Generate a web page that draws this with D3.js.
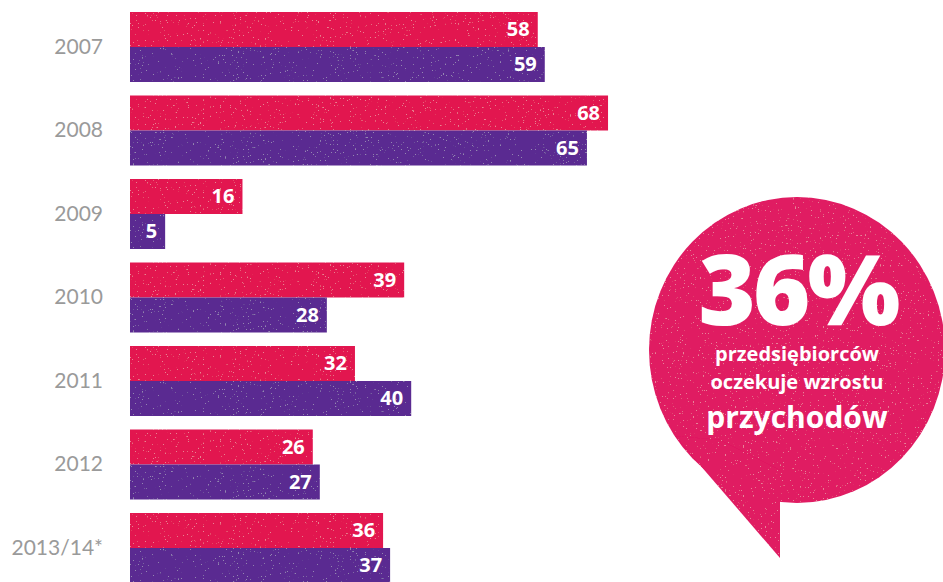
<!DOCTYPE html>
<html><head><meta charset="utf-8">
<script src="https://cdn.jsdelivr.net/npm/d3@7"></script>
<style>
html,body{margin:0;padding:0;background:#fff;}
svg{display:block;}
</style></head>
<body>
<svg id="chart" width="943" height="582"></svg>
<script>
const years = ["2007","2008","2009","2010","2011","2012","2013/14*"];
const seriesA = [58, 68, 16, 39, 32, 26, 36];
const seriesB = [59, 65, 5, 28, 40, 27, 37];
const seriesNames = ["a","b"];
const colors = ["#e2134f", "#5a2a91"];
const bubbleBig = "36%";
const bubbleLines = ["przedsiębiorców", "oczekuje wzrostu", "przychodów"];

const svg = d3.select("#chart");
const defs = svg.append("defs");
const f = defs.append("filter").attr("id","speck").attr("x",0).attr("y",0).attr("width",1).attr("height",1);
f.append("feTurbulence").attr("type","fractalNoise").attr("baseFrequency","0.6").attr("numOctaves",2).attr("seed",4).attr("result","n");
f.append("feColorMatrix").attr("in","n").attr("type","matrix")
 .attr("values","0 0 0 0 1  0 0 0 0 1  0 0 0 0 1  20 0 0 0 -14.2").attr("result","s");
f.append("feComposite").attr("in","s").attr("in2","SourceGraphic").attr("operator","in").attr("result","s2");
f.append("feComponentTransfer").attr("in","s2").attr("result","s3")
 .append("feFuncA").attr("type","linear").attr("slope",0.22);
const m = f.append("feMerge");
m.append("feMergeNode").attr("in","SourceGraphic");
m.append("feMergeNode").attr("in","s3");

const x = d3.scaleLinear().domain([0, 100]).range([130, 833]);
const y = d3.scaleBand().domain(years).range([12, 583]).paddingInner(0.1617).paddingOuter(0);
const ys = d3.scaleBand().domain(seriesNames).range([0, y.bandwidth()]);

const data = years.map((yr, i) => ({year: yr, vals: [seriesA[i], seriesB[i]]}));

const g = svg.append("g");
const groups = g.selectAll("g.grp").data(data).join("g").attr("class","grp")
  .attr("transform", d => `translate(0,${y(d.year)})`);

const bars = groups.selectAll("g.bar").data(d => d.vals.map((v,k)=>({v, k}))).join("g").attr("class","bar");
bars.append("rect")
  .attr("x", x(0))
  .attr("y", d => ys(seriesNames[d.k]))
  .attr("width", d => x(d.v) - x(0))
  .attr("height", ys.bandwidth())
  .attr("fill", d => colors[d.k])
  .attr("filter","url(#speck)");
bars.append("text")
  .attr("x", d => x(d.v) - 8)
  .attr("y", d => ys(seriesNames[d.k]) + ys.bandwidth()/2 + 7)
  .attr("text-anchor","end")
  .attr("font-family","'Open Sans', Lato, sans-serif")
  .attr("font-weight","700")
  .attr("font-size", 20)
  .attr("fill","#fff")
  .text(d => d.v);

groups.append("text")
  .attr("x", 103)
  .attr("y", y.bandwidth()/2 + 7)
  .attr("text-anchor","end")
  .attr("font-family","Lato, 'Open Sans', sans-serif")
  .attr("font-weight","400")
  .attr("font-size", 21)
  .attr("fill","#9a9a9a")
  .text(d => d.year);

// speech bubble
const bub = svg.append("g").attr("filter","url(#speck)");
bub.append("ellipse").attr("cx",797).attr("cy",350).attr("rx",148).attr("ry",153).attr("fill","#e01a62");
bub.append("path").attr("d","M675,436 L780,558 L780,470 L720,440 Z").attr("fill","#e01a62");

const bt = svg.append("g").attr("font-family","'Open Sans', Lato, sans-serif").attr("fill","#fff").attr("text-anchor","middle");
bt.append("text").attr("x",798).attr("y",325).attr("font-size",98).attr("font-weight","800").attr("letter-spacing",-3).text(bubbleBig);
bt.append("text").attr("x",797).attr("y",361).attr("font-size",20).attr("font-weight","700").text(bubbleLines[0]);
bt.append("text").attr("x",797).attr("y",389).attr("font-size",20).attr("font-weight","700").text(bubbleLines[1]);
bt.append("text").attr("x",797).attr("y",428).attr("font-size",30).attr("font-weight","700").text(bubbleLines[2]);
</script>
</body></html>
